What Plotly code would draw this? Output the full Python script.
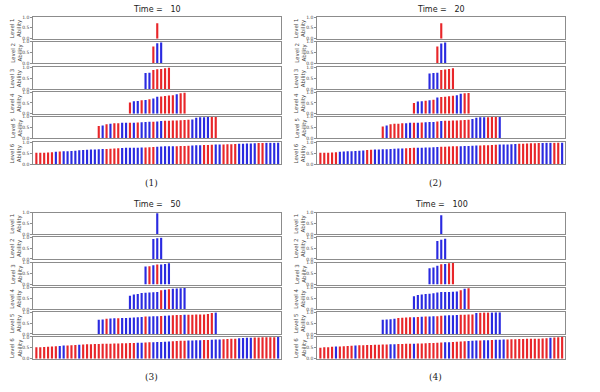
import plotly.graph_objects as go

RED = "#e8262a"
BLUE = "#2a2ae0"

times = [10, 20, 50, 100]
captions = ["(1)", "(2)", "(3)", "(4)"]
level_names = ["Level 1", "Level 2", "Level 3", "Level 4", "Level 5", "Level 6"]
yticks = [0.0, 0.5, 1.0]

# ---------- Panel 1 (Time = 10) ----------
p1_L1 = [0.71]
p1_L1c = "R"
p1_L2 = [0.78, 0.93, 0.97]
p1_L2c = "RBB"
p1_L3 = [0.74, 0.75, 0.88, 0.91, 0.93, 0.96, 0.99]
p1_L3c = "BBRRRRR"
p1_L4 = [0.52, 0.58, 0.59, 0.62, 0.64, 0.67, 0.70, 0.78, 0.80, 0.82, 0.84, 0.86, 0.90, 0.95, 0.97]
p1_L4c = "RBBRBRBBRRRRBRR"
p1_L5 = [0.58, 0.60, 0.66, 0.68, 0.70, 0.70, 0.72, 0.72, 0.73, 0.73, 0.74, 0.75, 0.76, 0.77, 0.77,
         0.78, 0.80, 0.82, 0.82, 0.83, 0.83, 0.84, 0.85, 0.86, 0.88, 0.95, 0.98, 0.98, 0.99, 0.99, 0.99]
p1_L5c = "RBRBRRBBRBRBBBRBBRRRRRRRBBBBBRR"
p1_L6 = [0.52, 0.53, 0.53, 0.54, 0.55, 0.57,
         0.58, 0.60, 0.60, 0.61, 0.62, 0.64, 0.65,
         0.66, 0.67, 0.68, 0.69, 0.70, 0.70, 0.71, 0.72,
         0.73, 0.74, 0.75, 0.75, 0.76, 0.76, 0.77, 0.77, 0.78, 0.79,
         0.80, 0.81, 0.82, 0.82, 0.83, 0.83, 0.84, 0.84, 0.85, 0.86,
         0.87, 0.87, 0.88, 0.88, 0.89, 0.90, 0.90, 0.91, 0.92, 0.92,
         0.93, 0.94, 0.94, 0.95, 0.95, 0.96, 0.97, 0.97, 0.98, 0.99, 0.99, 1.00]
p1_L6c = "RRRRRBRBBBBBBBBBBBRRRRBBBBBBRRRBBBBBRRRRBBBRRRBBRRRRBBBBBRRBBBB"

# ---------- Panel 2 (Time = 20) ----------
p2_L1 = [0.72]
p2_L1c = "R"
p2_L2 = [0.78, 0.92, 0.97]
p2_L2c = "RBB"
p2_L3 = [0.72, 0.74, 0.75, 0.88, 0.90, 0.93, 0.96]
p2_L3c = "BBBRRRR"
p2_L4 = [0.50, 0.57, 0.58, 0.60, 0.63, 0.65, 0.75, 0.77, 0.79, 0.81, 0.83, 0.86, 0.92, 0.95, 0.96]
p2_L4c = "RBBRBRBRRRRBBRR"
p2_L5 = [0.55, 0.60, 0.65, 0.68, 0.68, 0.70, 0.70, 0.72, 0.72, 0.73, 0.74, 0.75, 0.76, 0.76, 0.78,
         0.80, 0.82, 0.82, 0.83, 0.83, 0.84, 0.85, 0.86, 0.90, 0.95, 0.98, 0.98, 0.98, 0.99, 0.99, 1.00]
p2_L5c = "RBRRRRBBRBRBBBRBRRRRRRRBBBBRRRB"
p2_L6 = [0.52, 0.53, 0.53, 0.54, 0.55, 0.57,
         0.58, 0.59, 0.60, 0.61, 0.62, 0.63, 0.65,
         0.66, 0.67, 0.68, 0.69, 0.69, 0.70, 0.71, 0.72,
         0.72, 0.73, 0.74, 0.75, 0.76, 0.76, 0.77, 0.77, 0.78, 0.79,
         0.80, 0.80, 0.81, 0.82, 0.82, 0.83, 0.84, 0.84, 0.85, 0.86,
         0.86, 0.87, 0.87, 0.88, 0.89, 0.90, 0.90, 0.91, 0.92, 0.93,
         0.94, 0.94, 0.95, 0.96, 0.96, 0.97, 0.97, 0.98, 0.99, 0.99, 1.00, 1.00]
p2_L6c = "RRRRRBBBBBBBRRBBBBBBBBRRRBBBBBBRRRRRBBBBBRRRRRBBBBBRRRRRRBBBRRB"

# ---------- Panel 3 (Time = 50) ----------
p3_L1 = [0.97]
p3_L1c = "B"
p3_L2 = [0.92, 0.95, 0.97]
p3_L2c = "BBB"
p3_L3 = [0.83, 0.84, 0.89, 0.92, 0.92, 0.95, 0.98]
p3_L3c = "BRBRBBB"
p3_L4 = [0.62, 0.68, 0.70, 0.75, 0.76, 0.77, 0.78, 0.80, 0.88, 0.90, 0.92, 0.95, 0.96, 0.97, 0.98]
p3_L4c = "BBBBBBBBRBRBBBB"
p3_L5 = [0.65, 0.67, 0.70, 0.71, 0.72, 0.72, 0.73, 0.74, 0.75, 0.76, 0.77, 0.78, 0.80, 0.80, 0.81,
         0.82, 0.83, 0.84, 0.85, 0.86, 0.87, 0.87, 0.88, 0.88, 0.89, 0.90, 0.90, 0.90, 0.92, 0.97, 0.99]
p3_L5c = "BBRBBRBBBBBBRBBBRBBRRRBRRRRRRRB"
p3_L6 = [0.52, 0.53, 0.54, 0.55, 0.56, 0.57,
         0.58, 0.60, 0.61, 0.62, 0.63, 0.64, 0.65,
         0.66, 0.66, 0.67, 0.67, 0.68, 0.68, 0.69, 0.70,
         0.70, 0.71, 0.71, 0.72, 0.72, 0.73, 0.73, 0.74, 0.75, 0.76,
         0.77, 0.77, 0.78, 0.79, 0.80, 0.81, 0.82, 0.82, 0.83, 0.84,
         0.85, 0.85, 0.86, 0.86, 0.87, 0.88, 0.88, 0.89, 0.90, 0.91,
         0.92, 0.94, 0.95, 0.96, 0.96, 0.97, 0.97, 0.98, 0.98, 0.99, 0.99, 1.00]
p3_L6c = "RRRRRRBBRRRBRRRRRRRRRRRRRRBBRRBBBBBRRRRBBBBRRBBBRRRRBBBBRRRRRRB"

# ---------- Panel 4 (Time = 100) ----------
p4_L1 = [0.88]
p4_L1c = "B"
p4_L2 = [0.82, 0.88, 0.93]
p4_L2c = "BBB"
p4_L3 = [0.75, 0.79, 0.87, 0.94, 0.95, 0.98, 1.00]
p4_L3c = "BBBRBRR"
p4_L4 = [0.60, 0.66, 0.68, 0.70, 0.72, 0.74, 0.77, 0.79, 0.80, 0.80, 0.81, 0.82, 0.88, 0.95, 0.97]
p4_L4c = "BBBBBBBBBBBBRBR"
p4_L5 = [0.65, 0.67, 0.68, 0.70, 0.74, 0.75, 0.76, 0.77, 0.77, 0.78, 0.79, 0.80, 0.80, 0.81, 0.82,
         0.84, 0.85, 0.86, 0.86, 0.87, 0.88, 0.88, 0.90, 0.90, 0.97, 0.98, 0.99, 0.99, 0.99, 1.00, 1.00]
p4_L5c = "BBBBRRRRBRBRBBRRBBBBRRRRBRRRBBB"
p4_L6 = [0.50, 0.52, 0.53, 0.55, 0.56, 0.56, 0.57, 0.58, 0.59, 0.60,
         0.62, 0.62, 0.63, 0.63, 0.64, 0.64, 0.65, 0.65, 0.66, 0.66,
         0.67, 0.67, 0.68, 0.68, 0.69, 0.70, 0.70, 0.71, 0.72, 0.72,
         0.73, 0.74, 0.75, 0.76, 0.77, 0.78, 0.79, 0.80, 0.81, 0.82,
         0.83, 0.84, 0.85, 0.85, 0.86, 0.87, 0.87, 0.88, 0.88, 0.89,
         0.89, 0.90, 0.90, 0.91, 0.91, 0.92, 0.92, 0.93, 0.94, 0.96,
         0.97, 0.98, 1.00]
p4_L6c = "RRRRBRRRRBRRRRRRRRBBRRRRBRRRRRRRBBRRRRBBBRBBRBBBRRRRRRRRRRRBRRR"

panels = [
    [(p1_L1, p1_L1c), (p1_L2, p1_L2c), (p1_L3, p1_L3c), (p1_L4, p1_L4c), (p1_L5, p1_L5c), (p1_L6, p1_L6c)],
    [(p2_L1, p2_L1c), (p2_L2, p2_L2c), (p2_L3, p2_L3c), (p2_L4, p2_L4c), (p2_L5, p2_L5c), (p2_L6, p2_L6c)],
    [(p3_L1, p3_L1c), (p3_L2, p3_L2c), (p3_L3, p3_L3c), (p3_L4, p3_L4c), (p3_L5, p3_L5c), (p3_L6, p3_L6c)],
    [(p4_L1, p4_L1c), (p4_L2, p4_L2c), (p4_L3, p4_L3c), (p4_L4, p4_L4c), (p4_L5, p4_L5c), (p4_L6, p4_L6c)],
]

W, H = 600, 392
panel_x = [(33.25, 281.25), (317.25, 565.25), (33.25, 281.25), (317.25, 565.25)]
tops_top = [15.25, 40.25, 66.25, 91.25, 116.25, 142.25]
tops_bot = [213.25, 238.25, 264.25, 289.25, 314.25, 339.25]
panel_tops = [tops_top, tops_top, tops_bot, tops_bot]
AX_H = 22

fig = go.Figure()
layout = dict(
    width=W, height=H, margin=dict(l=0, r=0, t=0, b=0),
    paper_bgcolor="white", plot_bgcolor="white", showlegend=False,
    hovermode=False, dragmode=False,
    font=dict(family="DejaVu Sans", color="#333"),
)
annotations = []
cmap = {"R": RED, "B": BLUE}

for p in range(4):
    x0, x1 = panel_x[p]
    for l in range(6):
        k = p * 6 + l + 1
        vals, cols = panels[p][l]
        n = len(vals)
        xs = [i - (n - 1) / 2 for i in range(n)]
        suffix = "" if k == 1 else str(k)
        fig.add_trace(go.Bar(
            x=xs, y=vals, width=0.55,
            marker=dict(color=[cmap[c] for c in cols], line=dict(width=0)),
            xaxis="x" + suffix, yaxis="y" + suffix, hoverinfo="skip",
        ))
        top = panel_tops[p][l]
        bot = top + AX_H
        layout["xaxis" + suffix] = dict(
            domain=[x0 / W, x1 / W], anchor="y" + suffix, range=[-31.8, 31.8],
            showticklabels=False, ticks="", showgrid=False, zeroline=False,
            showline=True, mirror=True, linecolor="#8c8c8c", linewidth=1,
            fixedrange=True,
        )
        layout["yaxis" + suffix] = dict(
            domain=[(H - bot) / H, (H - top) / H], anchor="x" + suffix, range=[0, 1.0],
            tickvals=yticks, ticktext=["0.0", "0.5", "1.0"], ticks="outside", ticklen=2,
            tickcolor="#8c8c8c", tickfont=dict(size=4.5, color="#444"),
            showgrid=False, zeroline=False, fixedrange=True,
            showline=True, mirror=True, linecolor="#8c8c8c", linewidth=1,
        )
        annotations.append(dict(
            text=level_names[l] + "<br>Ability", textangle=-90,
            x=(x0 - 17) / W, y=(H - (top + bot) / 2) / H, xref="paper", yref="paper",
            xanchor="center", yanchor="middle", showarrow=False,
            font=dict(size=5.5, color="#444"),
        ))
    title_y = panel_tops[p][0] - 8
    annotations.append(dict(
        text="Time =   " + str(times[p]), x=(x0 + x1) / 2 / W, y=(H - title_y) / H,
        xref="paper", yref="paper", xanchor="center", yanchor="middle", showarrow=False,
        font=dict(size=8, color="#222"),
    ))
    cap_y = panel_tops[p][5] + AX_H + 19
    annotations.append(dict(
        text=captions[p], x=(x0 + x1) / 2 / W - 0.01, y=(H - cap_y) / H,
        xref="paper", yref="paper", xanchor="center", yanchor="middle", showarrow=False,
        font=dict(size=9, family="DejaVu Serif", color="#222"),
    ))

layout["annotations"] = annotations
fig.update_layout(**layout)
fig.write_html(
    "out.html",
    config={"displayModeBar": False, "staticPlot": True},
    post_script="document.body.style.margin='0';document.body.style.overflow='hidden';",
)
